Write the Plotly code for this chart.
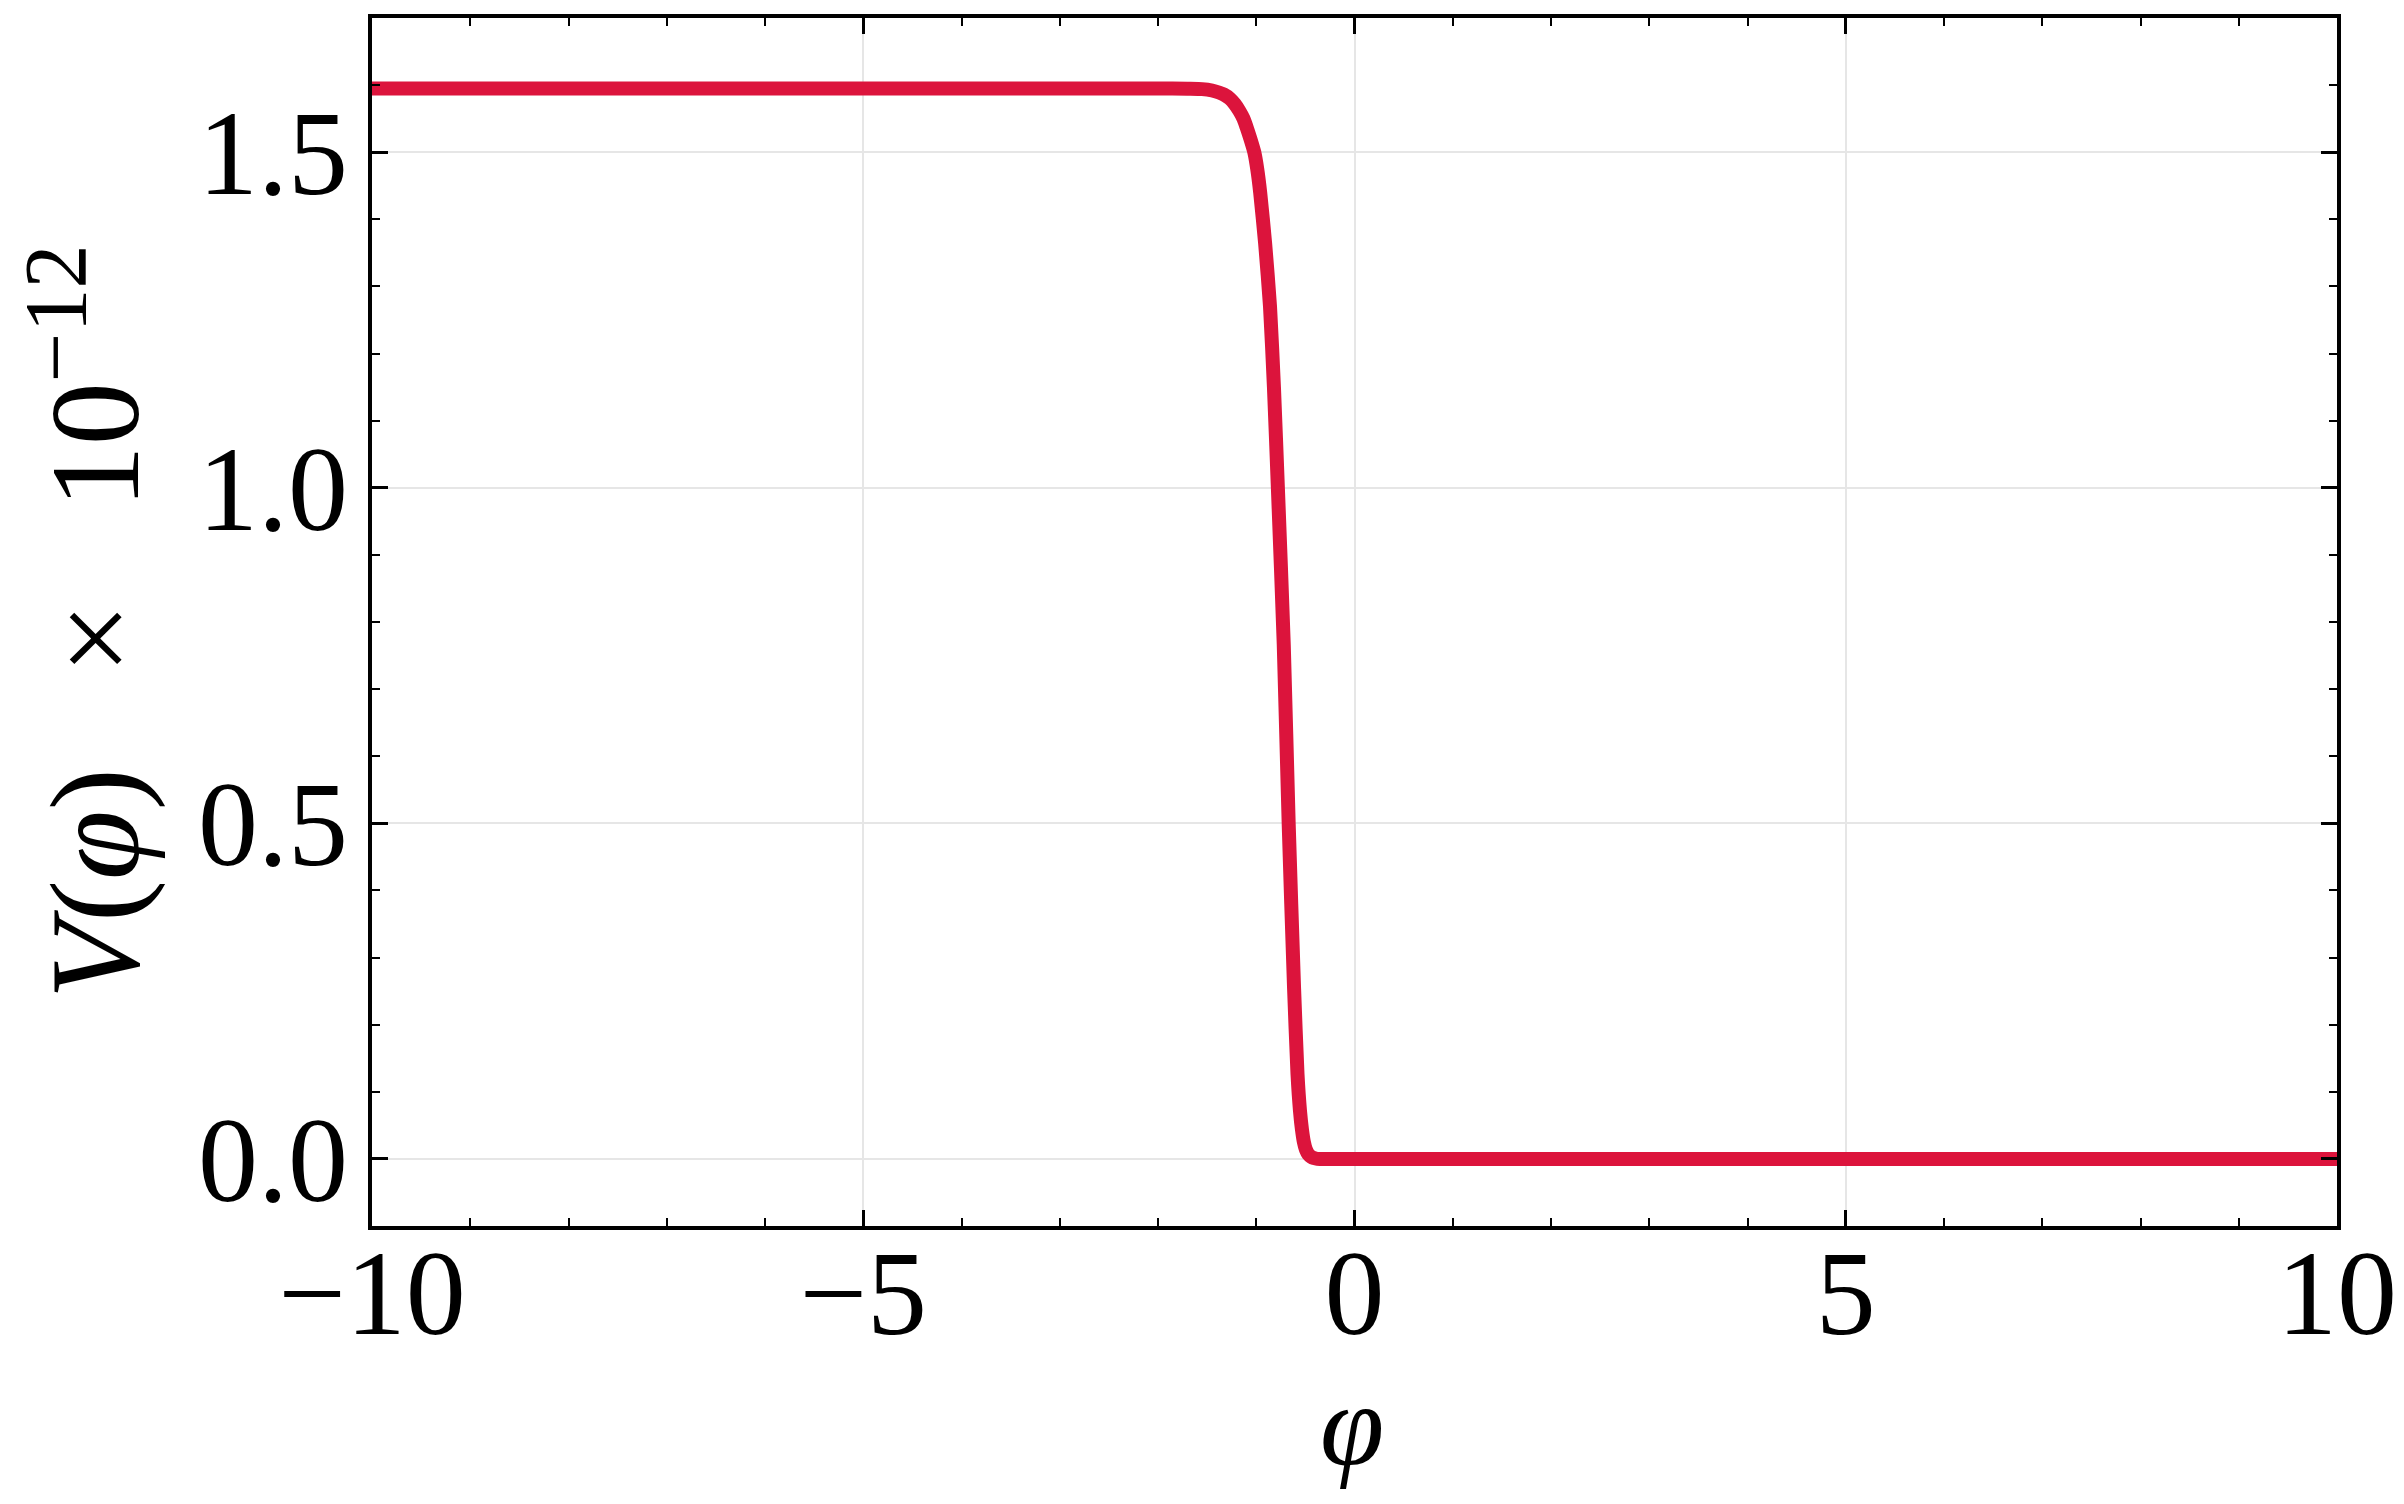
import plotly.graph_objects as go

# values (V in units of 1e-12)
phi = [-10.0, -6.0, -2.4, -2.0, -1.7, -1.55, -1.45, -1.38, -1.33, -1.27, -1.22, -1.17, -1.13,
       -1.1, -1.06, -1.02, -0.99, -0.96, -0.91, -0.86, -0.82, -0.78, -0.72, -0.67,
       -0.615, -0.58, -0.555, -0.535, -0.515, -0.495, -0.47, -0.44, -0.41, -0.38,
       -0.3, 0.5, 5.0, 10.0]
V = [1.595, 1.595, 1.595, 1.595, 1.5945, 1.594, 1.592, 1.589, 1.586, 1.580, 1.572, 1.561, 1.550,
     1.538, 1.52, 1.50, 1.475, 1.44, 1.365, 1.27, 1.15, 1.0, 0.766, 0.5,
     0.254, 0.126, 0.072, 0.044, 0.025, 0.014, 0.007, 0.003, 0.001, 0.0,
     0.0, 0.0, 0.0, 0.0]

x_ticks = [-10, -5, 0, 5, 10]
y_ticks = [0.0, 0.5, 1.0, 1.5]

W, H = 2404, 1504
# the page body adds an 8px offset, so margins are shifted by it
L, R, T, B = 364, 75, 6, 286

font = "Liberation Serif"

fig = go.Figure()
fig.add_trace(go.Scatter(x=phi, y=V, mode="lines",
                         line=dict(color="#DC143C", width=14, shape="spline", smoothing=0.6)))

axis_common = dict(
    showline=True, linecolor="black", linewidth=4, mirror="allticks",
    ticks="inside", ticklen=16, tickwidth=3, tickcolor="black",
    showgrid=True, gridcolor="#e6e6e6", gridwidth=2,
    zeroline=False,
    tickfont=dict(family=font, size=120, color="black"),
)

fig.update_xaxes(range=[-10, 10], tickvals=x_ticks,
                 minor=dict(dtick=1, ticks="inside", ticklen=8, tickwidth=2,
                            tickcolor="black", showgrid=False),
                 ticklabelstandoff=-40,
                 **axis_common)
fig.update_yaxes(range=[-0.1, 1.7], tickvals=y_ticks, tickformat=".1f",
                 minor=dict(dtick=0.1, ticks="inside", ticklen=8, tickwidth=2,
                            tickcolor="black", showgrid=False),
                 ticklabelstandoff=-4,
                 **axis_common)

pw = W - L - R
ph = H - T - B
fig.add_annotation(text="<i>φ</i>", xref="paper", yref="paper",
                   x=(1344 - L) / pw, y=-(1418 - (H - B)) / ph,
                   showarrow=False, xanchor="center", yanchor="middle",
                   font=dict(family=font, size=116, color="black"))
fig.add_annotation(text="<i>V</i>(<i>φ</i>)   ×   10<sup>−12</sup>",
                   xref="paper", yref="paper",
                   x=(78 - L) / pw, y=((H - B) - 612) / ph,
                   textangle=-90, showarrow=False,
                   xanchor="center", yanchor="middle",
                   font=dict(family=font, size=126, color="black"))

fig.update_layout(width=W, height=H, showlegend=False,
                  margin=dict(l=L, r=R, t=T, b=B),
                  plot_bgcolor="white", paper_bgcolor="white")

fig.write_html("out.html")
